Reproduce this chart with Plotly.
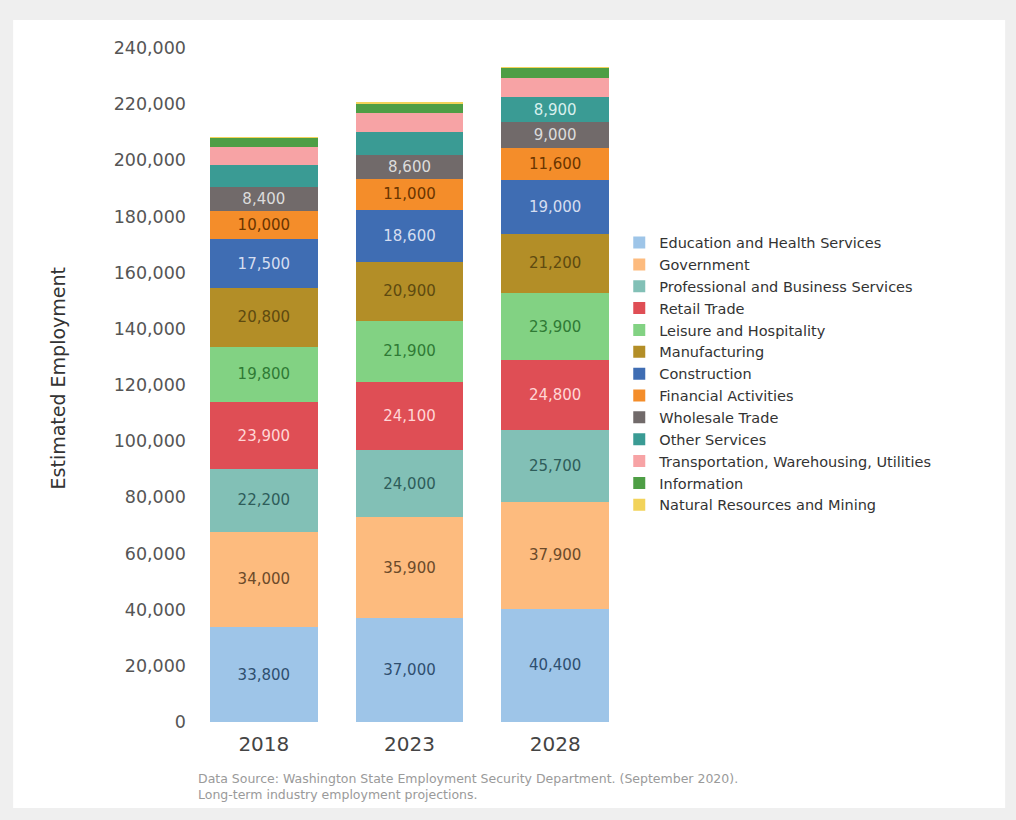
import plotly.graph_objects as go

years = ["2018", "2023", "2028"]

series_names = [
    "Education and Health Services",
    "Government",
    "Professional and Business Services",
    "Retail Trade",
    "Leisure and Hospitality",
    "Manufacturing",
    "Construction",
    "Financial Activities",
    "Wholesale Trade",
    "Other Services",
    "Transportation, Warehousing, Utilities",
    "Information",
    "Natural Resources and Mining",
]

education = [33800, 37000, 40400]
government = [34000, 35900, 37900]
professional = [22200, 24000, 25700]
retail = [23900, 24100, 24800]
leisure = [19800, 21900, 23900]
manufacturing = [20800, 20900, 21200]
construction = [17500, 18600, 19000]
financial = [10000, 11000, 11600]
wholesale = [8400, 8600, 9000]
other_services = [8000, 8200, 8900]
transportation = [6300, 6700, 6800]
information = [3300, 3500, 3700]
natural_resources = [150, 150, 150]

series_values = [education, government, professional, retail, leisure,
                 manufacturing, construction, financial, wholesale,
                 other_services, transportation, information, natural_resources]

# which segments carry a value label
label_shown = [
    [True, True, True], [True, True, True], [True, True, True],
    [True, True, True], [True, True, True], [True, True, True],
    [True, True, True], [True, True, True], [True, True, True],
    [False, False, True], [False, False, False], [False, False, False],
    [False, False, False],
]

bar_colors = ["#9ec5e8", "#fdbb7e", "#82c0b6", "#df4e55", "#82d283", "#b38e27",
              "#3f6db3", "#f48d2a", "#716a6a", "#3a9b94", "#f7a3a5", "#4e9e45", "#f2d35a"]
text_colors = ["#2f4f6f", "#6b4a2a", "#2e5d5a", "#ffd6d6", "#2f7a35", "#5e4a10",
               "#d5ddf0", "#6a3500", "#dcdcdc", "#d8f0ee", "#333333", "#333333", "#333333"]

FONT = "DejaVu Sans"

fig = go.Figure()
for name, vals, shown, col, tcol in zip(series_names, series_values, label_shown,
                                        bar_colors, text_colors):
    fig.add_trace(go.Bar(
        name=name, x=years, y=vals,
        text=[f"{v:,}" if s else "" for v, s in zip(vals, shown)],
        textposition="inside", insidetextanchor="middle", textangle=0,
        constraintext="none",
        textfont=dict(family=FONT, size=15, color=tcol),
        marker=dict(color=col, line=dict(width=0)),
    ))

fig.update_layout(
    width=1016, height=820,
    barmode="stack", bargap=0.26,
    paper_bgcolor="#efefef", plot_bgcolor="rgba(0,0,0,0)",
    margin=dict(l=191, r=388, t=48, b=98, autoexpand=False),
    font=dict(family=FONT, color="#444"),
    showlegend=True,
    legend=dict(
        x=0.98, xanchor="left", y=0.735, yanchor="top",
        traceorder="normal", itemwidth=30, tracegroupgap=0,
        font=dict(family=FONT, size=14.5, color="#333"),
        bgcolor="rgba(0,0,0,0)",
    ),
    xaxis=dict(
        showline=False, showgrid=False, ticks="", ticklabelstandoff=8,
        tickfont=dict(family=FONT, size=20, color="#444"),
    ),
    yaxis=dict(
        range=[0, 240000], tickmode="linear", tick0=0, dtick=20000,
        tickformat=",d", showgrid=False, zeroline=False, showline=False,
        ticks="", ticklabelstandoff=4,
        tickfont=dict(family=FONT, size=17.5, color="#555"),
    ),
    shapes=[dict(
        type="rect", xref="paper", yref="paper",
        x0=-0.407, x1=1.863, y0=-0.1276, y1=1.0415,
        fillcolor="white", line=dict(width=0), layer="below",
    )],
    annotations=[
        dict(text="Estimated Employment", xref="paper", yref="paper",
             x=-0.304, y=0.51, xanchor="center", yanchor="middle",
             textangle=-90, showarrow=False,
             font=dict(family=FONT, size=19, color="#333")),
        dict(text="Data Source: Washington State Employment Security Department. (September 2020).<br>"
                  "Long-term industry employment projections.",
             xref="paper", yref="paper", x=0.011, y=-0.069,
             xanchor="left", yanchor="top", align="left", showarrow=False,
             font=dict(family=FONT, size=12.5, color="#9a9a9a")),
    ],
)

fig.write_html(
    "out.html",
    config={"displayModeBar": False},
    post_script="document.body.style.margin='0';document.body.style.background='#efefef';",
)
